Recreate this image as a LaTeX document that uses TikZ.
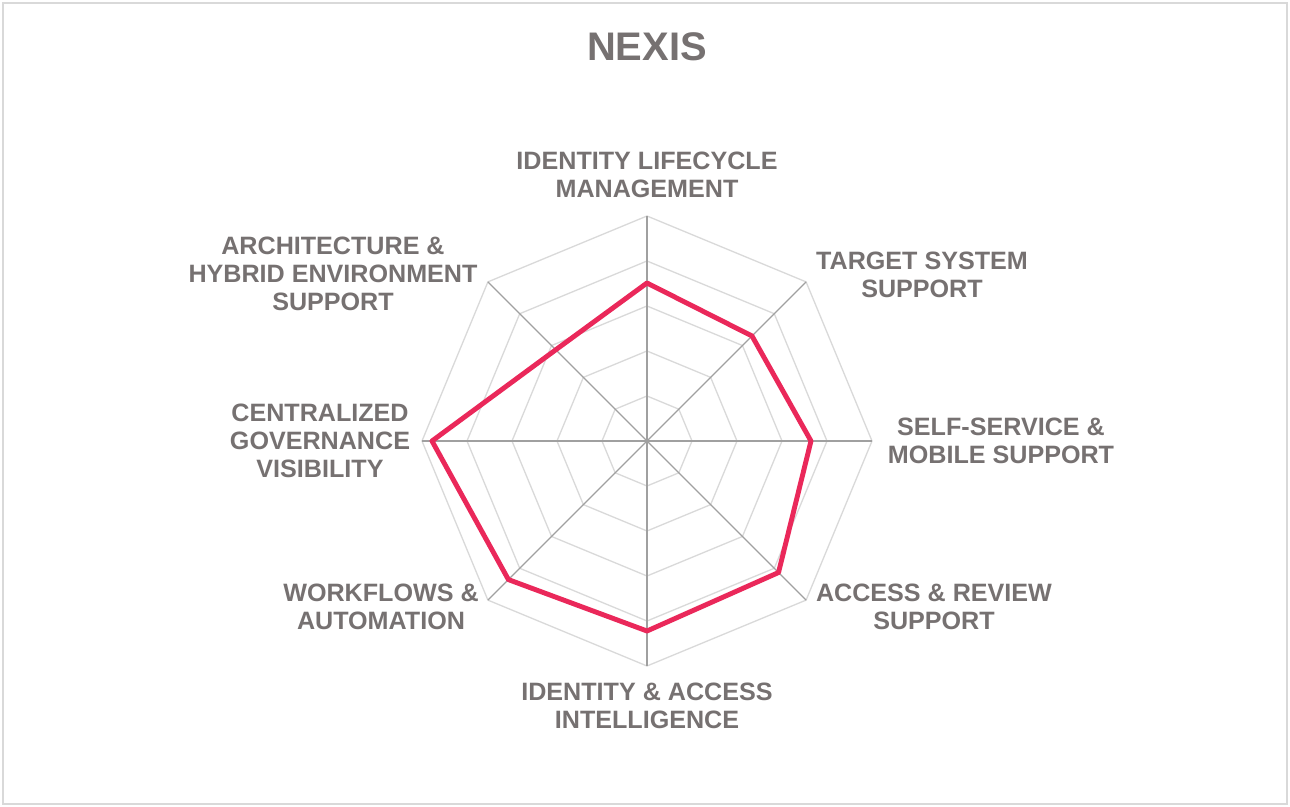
\documentclass[tikz,border=0pt]{standalone}
\usepackage{fontspec}
\setmainfont{Liberation Sans}
\usepackage{tikz}
\definecolor{txtgray}{RGB}{118,113,113}
\definecolor{ringgray}{RGB}{217,217,217}
\definecolor{axisgray}{RGB}{160,160,160}
\definecolor{nexispink}{RGB}{234,40,90}

\tikzset{axlabel/.style={text=txtgray, font=\fontsize{14.3}{15.9}\selectfont\bfseries, align=center, inner sep=0}}

\begin{document}
\begin{tikzpicture}[x=0.02cm, y=0.02cm]
\useasboundingbox (-647,-366) rectangle (643,441);

% frame and title
\draw [color=ringgray, line width=0.8] (-644,-363) rectangle (640,438);
\node [text=txtgray, font=\fontsize{22.7}{26}\selectfont\bfseries] (title) at (0,394) {NEXIS};

% rings
\draw [color=ringgray, line width=0.75] (90:45) -- (45:45) -- (0:45) -- (-45:45) -- (-90:45) -- (-135:45) -- (180:45) -- (135:45) -- cycle;
\draw [color=ringgray, line width=0.75] (90:90) -- (45:90) -- (0:90) -- (-45:90) -- (-90:90) -- (-135:90) -- (180:90) -- (135:90) -- cycle;
\draw [color=ringgray, line width=0.75] (90:135) -- (45:135) -- (0:135) -- (-45:135) -- (-90:135) -- (-135:135) -- (180:135) -- (135:135) -- cycle;
\draw [color=ringgray, line width=0.75] (90:180) -- (45:180) -- (0:180) -- (-45:180) -- (-90:180) -- (-135:180) -- (180:180) -- (135:180) -- cycle;
\draw [color=ringgray, line width=0.75] (90:225) -- (45:225) -- (0:225) -- (-45:225) -- (-90:225) -- (-135:225) -- (180:225) -- (135:225) -- cycle;

% spokes
\draw [color=axisgray, line width=0.75] (90:225) -- (-90:225);
\draw [color=axisgray, line width=0.75] (45:225) -- (-135:225);
\draw [color=axisgray, line width=0.75] (0:225) -- (180:225);
\draw [color=axisgray, line width=0.75] (135:225) -- (-45:225);

% scores
\draw [color=nexispink, line width=2.8, line join=round] (90:158) -- (45:148.5) -- (0:164) -- (-45:186) -- (-90:190) -- (-135:196) -- (180:215) -- (135:129) -- cycle;

% labels
\node [axlabel] (lifecycle) at (0,266) {IDENTITY LIFECYCLE\\MANAGEMENT};
\node [axlabel] (target) at (275,166) {TARGET SYSTEM\\SUPPORT};
\node [axlabel] (selfservice) at (354,0) {SELF-SERVICE \&\\MOBILE SUPPORT};
\node [axlabel] (review) at (287,-166) {ACCESS \& REVIEW\\SUPPORT};
\node [axlabel] (intelligence) at (0,-265) {IDENTITY \& ACCESS\\INTELLIGENCE};
\node [axlabel] (workflows) at (-266,-166) {WORKFLOWS \&\\AUTOMATION};
\node [axlabel] (governance) at (-327,0) {CENTRALIZED\\GOVERNANCE\\VISIBILITY};
\node [axlabel] (hybrid) at (-314,167) {ARCHITECTURE \&\\HYBRID ENVIRONMENT\\SUPPORT};

\end{tikzpicture}
\end{document}
